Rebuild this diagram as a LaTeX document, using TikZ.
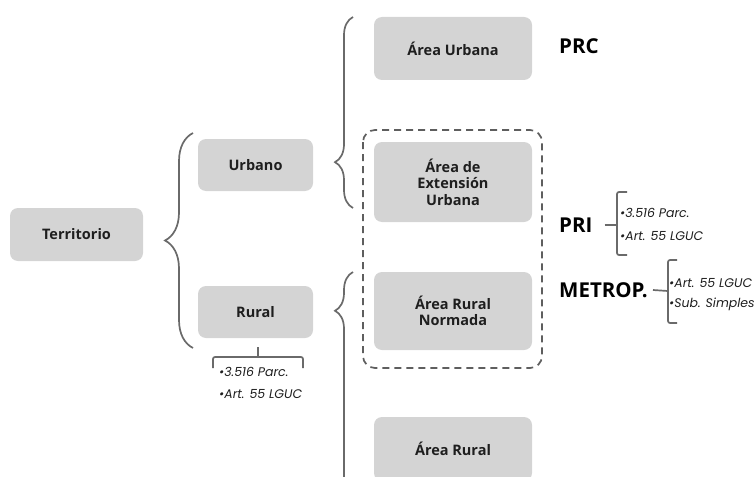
\documentclass[tikz,border=0pt]{standalone}
\usepackage{fontspec}
\setmainfont{Open Sans}
\newfontfamily\notefont{Poppins}
\usetikzlibrary{decorations.pathreplacing}

\definecolor{boxgray}{HTML}{D4D4D4}
\definecolor{linegray}{HTML}{6A6A6A}
\definecolor{dashgray}{HTML}{5E5E5E}
\definecolor{inkblack}{HTML}{1E1E1E}

\tikzset{
  area/.style={fill=boxgray, rounded corners=8pt, align=center, text=inkblack,
    font=\bfseries\fontsize{14.5}{16.5}\selectfont, inner sep=0pt},
  llave/.style={draw=linegray, line width=1.7pt, decorate},
  corchete/.style={draw=linegray, line width=1.7pt, rounded corners=2pt},
  plan/.style={font=\bfseries\fontsize{20.5}{22}\selectfont, text=black, anchor=west, inner sep=0pt},
  nota/.style={font=\notefont\itshape\fontsize{12.5}{14}\selectfont, text=inkblack, anchor=west, inner sep=0pt}
}

\begin{document}
\begin{tikzpicture}[x=1pt,y=-1pt]
\useasboundingbox (0,0) rectangle (754,476);

% cajas
\node[area, minimum width=133pt, minimum height=53pt] (terr) at (76.5,234.5) {Territorio};
\node[area, minimum width=115pt, minimum height=52pt] (urb) at (255.5,165) {Urbano};
\node[area, minimum width=115pt, minimum height=52pt] (rur) at (255.5,312) {Rural};

\node[area, minimum width=158pt, minimum height=63pt] (aurb) at (453,48.5) {Área Urbana};
\node[area, minimum width=158pt, minimum height=80pt] (aext) at (453,182) {Área de\\Extensión\\Urbana};
\node[area, minimum width=158pt, minimum height=78pt] (arn) at (453,311) {Área Rural\\Normada};
\node[area, minimum width=158pt, minimum height=64pt] (arur) at (453,449) {Área Rural};

% zona metropolitana
\draw[dashgray, line width=1.7pt, dash pattern=on 7pt off 5pt, rounded corners=12pt]
  (363,130) rectangle (542,368);

% llaves
\coordinate (b1a) at (193,348);
\coordinate (b1b) at (193,133);
\draw[llave, decoration={brace, amplitude=28pt, aspect=0.5}] (b1a) -- (b1b);

\coordinate (b2a) at (353,208);
\coordinate (b2b) at (353,17);
\draw[llave, decoration={brace, amplitude=18pt, aspect=0.24}] (b2a) -- (b2b);

\coordinate (b3a) at (353,500);
\coordinate (b3b) at (353,272);
\draw[llave, decoration={brace, amplitude=18pt, aspect=0.83}] (b3a) -- (b3b);

% llave bajo Rural
\coordinate (b4a) at (213,368);
\coordinate (b4b) at (303,368);
\coordinate (b4t) at (258,347);
\draw[corchete] (b4a) -- (213,357) -- (303,357) -- (b4b);
\draw[corchete] (b4t) -- (258,357);

\node[nota] (r1) at (219,372) {•3.516 Parc.};
\node[nota] (r2) at (219,394) {•Art. 55 LGUC};

% instrumentos
\node[plan] (prc) at (559,46) {PRC};
\node[plan] (pri) at (559,225) {PRI};
\node[plan] (met) at (559,290) {METROP.};

\draw[corchete] (627,192) -- (617,192) -- (617,255) -- (627,255);
\draw[corchete] (pri.east) ++(12,0) coordinate (pt) -- (617,225);
\node[nota] (p1) at (620,213) {•3.516 Parc.};
\node[nota] (p2) at (620,236) {•Art. 55 LGUC};

\draw[corchete] (677,260) -- (668,260) -- (668,323) -- (677,323);
\draw[corchete] (met.east) ++(5,0) coordinate (mt) -- (668,291);
\node[nota] (m1) at (669,283) {•Art. 55 LGUC};
\node[nota] (m2) at (669,304) {•Sub. Simples};
\end{tikzpicture}
\end{document}
